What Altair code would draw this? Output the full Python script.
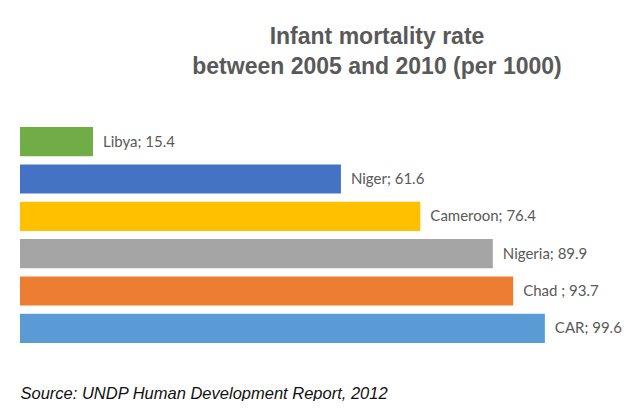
import altair as alt
import pandas as pd

countries = ["Libya", "Niger", "Cameroon", "Nigeria", "Chad", "CAR"]
values = [15.4, 61.6, 76.4, 89.9, 93.7, 99.6]
labels = ["Libya; 15.4", "Niger; 61.6", "Cameroon; 76.4", "Nigeria; 89.9", "Chad ; 93.7", "CAR; 99.6"]
colors = ["#70ad47", "#4472c4", "#ffc000", "#a5a5a5", "#ed7d31", "#5b9bd5"]

df = pd.DataFrame({"country": countries, "value": values, "label": labels})

x_scale = alt.Scale(domain=[1.8, 113.6], clamp=True, nice=False, zero=False)
y_enc = alt.Y("country:N", sort=countries, axis=None,
              scale=alt.Scale(paddingInner=0.22, paddingOuter=0.11))

bars = alt.Chart(df).mark_bar().encode(
    x=alt.X("value:Q", scale=x_scale,
            axis=alt.Axis(labels=False, ticks=False, domain=False, grid=False,
                          title="Source: UNDP Human Development Report, 2012",
                          titleFont="Liberation Sans", titleFontSize=16.5,
                          titleFontStyle="italic", titleFontWeight="normal",
                          titleColor="#111111", titleAnchor="start", titleAlign="left",
                          titleBaseline="alphabetic", titlePadding=51)),
    y=y_enc,
    color=alt.Color("country:N", scale=alt.Scale(domain=countries, range=colors), legend=None),
)

text = alt.Chart(df).mark_text(align="left", baseline="middle", dx=10,
                                font="Lato", fontSize=15, color="#595959").encode(
    x=alt.X("value:Q", scale=x_scale),
    y=y_enc,
    text="label:N",
)

chart = alt.layer(bars, text).properties(
    width=600,
    height=224,
    autosize=alt.AutoSizeParams(type="none"),
    padding={"left": 12, "right": 2, "top": 115, "bottom": 54},
    title=alt.TitleParams(
        text=["Infant mortality rate", "between 2005 and 2010 (per 1000)"],
        font="Liberation Sans", fontSize=23, fontWeight="bold", color="#595959",
        anchor="middle", dx=57, offset=44, lineHeight=30,
    ),
).configure(background="white").configure_view(stroke="transparent", strokeWidth=0)

chart.save("out.html", embed_options={"renderer": "svg", "actions": False})
